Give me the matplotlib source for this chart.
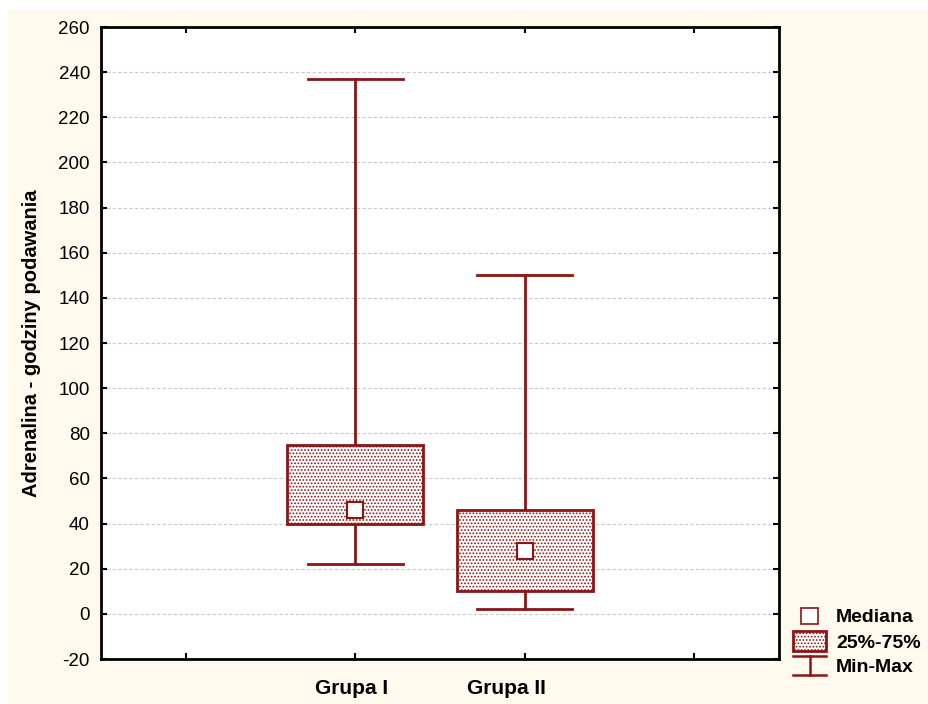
import matplotlib
matplotlib.use('Agg')
from matplotlib import pyplot as plt
from matplotlib.patches import Rectangle
from matplotlib.lines import Line2D

plt.rcParams['font.family'] = ['Liberation Sans', 'DejaVu Sans']
plt.rcParams['hatch.linewidth'] = 0.8
plt.rcParams['axes.unicode_minus'] = False

# box-whisker summary per group
groups = ['Grupa I', 'Grupa II']
positions = [2, 3]
mins = [22, 2]
q25 = [40, 10]
medians = [46, 28]
q75 = [75, 46]
maxs = [237, 150]

y_ticks = list(range(-20, 261, 20))

dark_red = '#8b1414'
cream = '#fff9ee'
box_w = 0.8
cap_w = 0.56

fig = plt.figure(figsize=(9.29, 7.04), dpi=100, facecolor='white')
fig.add_artist(Rectangle((8 / 929, 0), 1, 1 - 10 / 704, transform=fig.transFigure,
                         facecolor=cream, edgecolor='none', zorder=-10))

ax = fig.add_axes([101 / 929, 45 / 704, 678 / 929, 632 / 704])
ax.set_facecolor('white')

for x, lo, a, m, b, hi in zip(positions, mins, q25, medians, q75, maxs):
    ax.plot([x, x], [lo, a], color=dark_red, lw=2, zorder=3)
    ax.plot([x, x], [b, hi], color=dark_red, lw=2, zorder=3)
    ax.plot([x - cap_w / 2, x + cap_w / 2], [lo, lo], color=dark_red, lw=2, zorder=3)
    ax.plot([x - cap_w / 2, x + cap_w / 2], [hi, hi], color=dark_red, lw=2, zorder=3)
    ax.add_patch(Rectangle((x - box_w / 2, a), box_w, b - a, facecolor='white',
                           edgecolor=dark_red, hatch='.....', lw=2, zorder=4))
    ax.plot([x], [m], marker='s', ms=11.5, mfc='white', mec=dark_red, mew=1.5, zorder=5)

ax.set_xlim(0.5, 4.5)
ax.set_ylim(-20, 260)
ax.set_yticks(y_ticks)
ax.set_xticks([1, 2, 3, 4])
ax.set_xticklabels([])
ax.tick_params(direction='in', length=4, width=1.5, top=True, right=True,
               labelsize=13.5, colors='black', pad=8)
ax.tick_params(axis='x', labelbottom=False)
for s in ax.spines.values():
    s.set_linewidth(2)
ax.grid(axis='y', color='#c8c8c8', ls=(0, (3, 2)), lw=0.8)
ax.set_axisbelow(True)

# group labels sit a little left of their ticks
for x, name, shift in zip(positions, groups, [-0.02, -0.11]):
    ax.text(x + shift, -0.032, name, transform=ax.get_xaxis_transform(),
            ha='center', va='top', fontsize=15, fontweight='bold')

ax.set_ylabel('Adrenalina - godziny podawania', fontsize=14.5, fontweight='bold')
ax.yaxis.set_label_coords(-0.0885, 0.5)

# legend drawn in a small pixel-scaled axes
lg = fig.add_axes([785 / 929, 20 / 704, 140 / 929, 80 / 704])
lg.set_xlim(785, 925)
lg.set_ylim(704 - 20, 704 - 100)
lg.axis('off')
lg.add_patch(Rectangle((801, 608), 17, 16, facecolor='white', edgecolor=dark_red, lw=1.2))
lg.add_patch(Rectangle((793, 631), 33, 20, facecolor='white', edgecolor=dark_red,
                       hatch='.....', lw=2))
lg.add_line(Line2D([793, 826], [656, 656], color=dark_red, lw=1.8))
lg.add_line(Line2D([793, 826], [675, 675], color=dark_red, lw=1.8))
lg.add_line(Line2D([810, 810], [656, 675], color=dark_red, lw=1.8))
for y, t in zip([618, 643, 667], ['Mediana', '25%-75%', 'Min-Max']):
    lg.text(836, y, t, fontsize=14, fontweight='bold', va='center', ha='left')

fig.savefig('out.png', dpi=100, facecolor=fig.get_facecolor())
